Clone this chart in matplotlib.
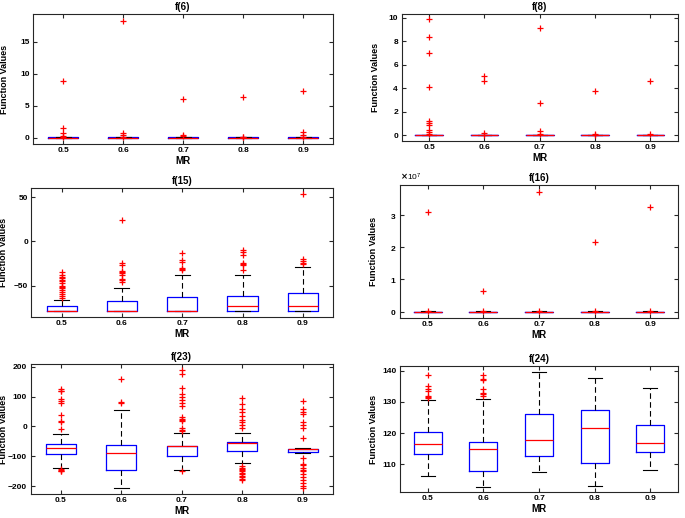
import matplotlib.pyplot as plt

plt.rcParams['font.family'] = ['Liberation Sans', 'DejaVu Sans']
plt.rcParams['font.weight'] = 'bold'
plt.rcParams['axes.titleweight'] = 'bold'
plt.rcParams['axes.labelweight'] = 'bold'

mr = ['0.5', '0.6', '0.7', '0.8', '0.9']

# per MR: q1, median, q3, lower whisker, upper whisker
f6_box = [(0, 0, 0.02, 0, 0.05)] * 5
f6_out = [[8.85, 1.5, 0.7, 0.25, 0.1],
          [18.2, 0.7, 0.35, 0.15],
          [6.0, 0.45, 0.2],
          [6.4, 0.15, 0.05],
          [7.35, 0.8, 0.45, 0.1]]

f8_box = [(0, 0, 0.01, 0, 0.03)] * 5
f8_out = [[9.85, 8.35, 6.95, 4.05, 1.2, 1.0, 0.9, 0.45, 0.3, 0.1],
          [5.0, 4.6, 0.2, 0.05],
          [9.1, 2.7, 0.35, 0.1],
          [3.75, 0.1, 0.03],
          [4.6, 0.1]]

f15_box = [(-79.2, -79.2, -73.5, -79.2, -66.3),
           (-79.2, -79.2, -67.8, -79.2, -52.3),
           (-79.2, -79.2, -62.9, -79.2, -38.6),
           (-79.2, -73.1, -61.7, -79.2, -38.6),
           (-79.2, -73.5, -58.3, -79.2, -29.5)]
f15_out = [[-35, -38, -40, -42, -44, -45, -47, -50, -52, -53, -55, -57, -60, -62, -64],
           [24.6, -24, -27, -34, -35, -36, -38, -43, -44, -46],
           [-13.6, -21, -23, -30, -31, -32],
           [-10, -12, -15, -25, -26, -27, -33],
           [53.7, -20, -22, -25, -26]]

f16_box = [(0, 0, 1e4, 0, 3e4)] * 5
f16_out = [[3.10e7, 0.03e7],
           [0.635e7, 0.03e7],
           [3.71e7, 0.02e7],
           [2.18e7, 0.02e7],
           [3.26e7, 0.03e7]]

f23_box = [(-91.9, -71.9, -58.5, -138.7, -25),
           (-145.4, -88.6, -60.7, -205.6, 56.3),
           (-97.5, -64, -64, -146.5, -22.8),
           (-81.9, -55.2, -51.8, -122, -22.8),
           (-85.2, -76.3, -74.1, -88, -72)]
f23_out = [[125, 118, 120, 93, 85, 78, 37, 18, 15, -10, -143, -146, -148, -150],
           [160, 83, 78],
           [188, 175, 130, 110, 100, 90, 80, 70, 30, 25, 20, 18, -5, -12, -15, -150],
           [94, 75, 60, 50, 35, 20, 15, 5, -5, -133, -138, -142, -146, -150, -155,
            -160, -165, -170, -175, -178],
           [86, 57, 50, 42, 15, 5, -5, -40, -105, -125, -130, -140, -145, -150,
            -160, -170, -180, -190, -200, -205]]

f24_box = [(113.5, 116.4, 120.4, 106.2, 130.7),
           (107.9, 114.9, 117.2, 102.8, 131.0),
           (112.8, 117.9, 126.3, 107.6, 139.6),
           (110.4, 121.8, 127.4, 103.1, 137.7),
           (113.9, 117.0, 122.6, 108.3, 134.6)]
f24_out = [[138.5, 135, 134, 133.5, 132, 131.7, 131.3],
           [138.5, 137.5, 137, 134, 133, 132.5, 131.8],
           [], [], []]

W, H = 685, 518
# title, boxes, outliers, ylim, yticks, axes box in pixels (left, top, right, bottom), ylabel x pixel
panels = [
    ('f(6)', f6_box, f6_out, (-1, 19.3), [0, 5, 10, 15], (33, 14, 333, 144), 5),
    ('f(8)', f8_box, f8_out, (-0.5, 10.3), [0, 2, 4, 6, 8, 10], (401.5, 14, 678, 141), 375),
    ('f(15)', f15_box, f15_out, (-85.6, 60.3), [-50, 0, 50], (31.5, 188, 333, 317), 4),
    ('f(16)', f16_box, f16_out, (-0.2e7, 3.94e7), [0, 1e7, 2e7, 3e7], (400, 185, 678, 318), 374),
    ('f(23)', f23_box, f23_out, (-226, 209), [-200, -100, 0, 100, 200], (30.5, 364, 333, 494), 4),
    ('f(24)', f24_box, f24_out, (101.2, 141.5), [110, 120, 130, 140], (400, 366, 678, 492), 374),
]

fig = plt.figure(figsize=(W / 100, H / 100), dpi=100)

for title, boxes, outs, ylim, yticks, (l, t, r, b), lab_x in panels:
    ax = fig.add_axes([l / W, 1 - b / H, (r - l) / W, (b - t) / H])
    stats = []
    for (q1, med, q3, lo, hi), fl in zip(boxes, outs):
        stats.append(dict(q1=q1, med=med, q3=q3, whislo=lo, whishi=hi, fliers=fl))
    ax.bxp(stats, positions=range(1, 6), widths=0.5, capwidths=0.25,
           boxprops=dict(color='blue', lw=0.9),
           medianprops=dict(color='red', lw=0.9),
           whiskerprops=dict(color='black', lw=0.8, linestyle=(0, (5, 3))),
           capprops=dict(color='black', lw=0.8),
           flierprops=dict(marker='+', markeredgecolor='red', markersize=5,
                           linestyle='none', markeredgewidth=0.9))
    ax.set_xlim(0.5, 5.5)
    ax.set_ylim(*ylim)
    ax.set_xticks(range(1, 6))
    ax.set_xticklabels(mr)
    ax.set_yticks(yticks)
    if title == 'f(16)':
        ax.ticklabel_format(axis='y', style='sci', scilimits=(7, 7), useMathText=True)
        ax.yaxis.get_offset_text().set_fontsize(6)
        ax.yaxis.get_offset_text().set_fontweight('normal')
    ax.tick_params(direction='in', top=True, right=True, labelsize=6,
                   length=3, width=0.8, color='0.15', pad=2.5)
    for s in ax.spines.values():
        s.set_color('0.15')
        s.set_linewidth(0.8)
    ax.set_title(title, fontsize=7, pad=3)
    ax.set_xlabel('MR', fontsize=7, labelpad=1)
    ax.set_ylabel('Function Values', fontsize=6.5, va='center')
    ax.yaxis.set_label_coords((lab_x - l) / (r - l), 0.5)

fig.savefig('out.png', dpi=100)
